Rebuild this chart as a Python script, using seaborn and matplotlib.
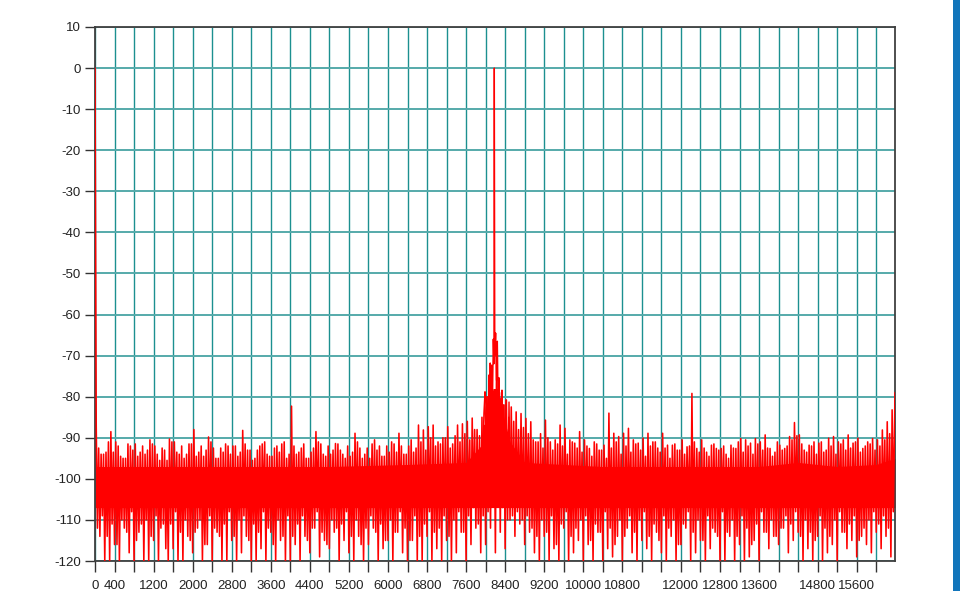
import numpy as np
import matplotlib
matplotlib.use("Agg")
import matplotlib.pyplot as plt
from matplotlib.patches import Rectangle
import seaborn as sns

# ---------------- data ----------------
dc_freq = [0]
dc_db = [0.0]
end_freq = [16384]
end_db = [-79.0]

# tallest maximum of the noise in each 100 Hz bin
peak_db = [
    -87.0, -94.0, -93.5, -88.5, -91.0, -94.5, -95.0, -92.0, -91.5, -93.5,
    -94.0, -90.5, -92.0, -95.5, -93.0, -90.3, -91.0, -94.0, -95.0, -91.5,
    -88.0, -93.5, -94.5, -89.8, -92.5, -95.0, -93.5, -92.0, -92.0, -94.5,
    -88.2, -93.0, -95.5, -93.0, -91.5, -94.0, -94.5, -92.0, -91.5, -95.0,
    -82.3, -94.0, -92.5, -95.0, -93.5, -88.5, -91.5, -94.5, -94.0, -91.4,
    -93.0, -95.0, -94.5, -88.9, -92.5, -94.0, -95.0, -90.5, -92.0, -94.5,
    -93.5, -91.5, -88.9, -94.0, -92.0, -93.5, -86.9, -88.1, -87.3, -86.9,
    -91.0, -90.0, -87.3, -91.5, -86.9, -86.6, -86.0, -85.2, -88.0, -85.0,
    -80.0, -74.0, -70.0, -79.0, -80.8, -82.5, -83.7, -84.1, -85.3, -86.1,
    -91.0, -89.0, -85.7, -91.0, -90.5, -86.9, -87.7, -90.5, -91.3, -88.5,
    -90.5, -92.6, -91.0, -93.0, -91.8, -84.0, -88.9, -89.7, -88.9, -87.7,
    -90.5, -91.3, -90.1, -88.9, -91.0, -92.5, -88.9, -91.8, -91.8, -93.0,
    -90.5, -92.2, -79.2, -92.6, -90.5, -93.5, -91.8, -92.6, -92.6, -94.0,
    -91.8, -92.6, -90.2, -90.5, -91.3, -90.2, -91.0, -89.3, -92.6, -93.5,
    -91.8, -92.6, -89.7, -86.3, -89.3, -93.0, -91.8, -91.0, -91.3, -93.5,
    -90.1, -89.7, -91.0, -90.5, -89.3, -91.3, -90.1, -92.6, -91.0, -90.2,
    -90.5, -88.1, -86.1, -83.2,
]
# shallower minimum in each 100 Hz bin
sec_trough_db = [
    -112, -109, -114, -111, -116, -110, -113, -108, -115, -111,
    -110, -114, -109, -112, -117, -111, -108, -113, -110, -115,
    -113, -110, -116, -109, -112, -114, -111, -108, -114, -110,
    -109, -115, -111, -113, -108, -112, -116, -110, -114, -109,
    -114, -111, -109, -115, -112, -108, -113, -116, -110, -112,
    -111, -108, -114, -110, -116, -112, -109, -113, -111, -115,
    -110, -113, -108, -112, -115, -109, -114, -111, -108, -113,
    -112, -109, -114, -110, -108, -113, -109, -107, -111, -109,
    -108, -106, -105, -107, -110, -109, -108, -110, -109, -112,
    -114, -110, -113, -109, -116, -111, -108, -114, -112, -110,
    -109, -115, -111, -113, -108, -112, -116, -110, -114, -109,
    -113, -110, -108, -114, -111, -115, -109, -112, -110, -116,
    -111, -108, -113, -110, -115, -109, -112, -114, -108, -113,
    -110, -114, -109, -112, -116, -111, -108, -113, -110, -114,
    -112, -109, -111, -108, -114, -110, -113, -115, -109, -112,
    -114, -110, -108, -113, -111, -109, -115, -112, -110, -108,
    -111, -109, -112, -108,
]
# lower maximum in each 100 Hz bin
sec_peak_db = [
    -92.5, -94.0, -91.0, -93.5, -92.0, -95.0, -91.5, -93.0, -94.5, -92.0,
    -93.0, -91.5, -94.0, -92.5, -95.5, -91.0, -93.5, -92.0, -94.0, -91.5,
    -94.5, -92.0, -93.0, -91.0, -95.0, -92.5, -91.5, -94.0, -92.0, -93.5,
    -91.5, -93.0, -95.0, -92.0, -91.0, -94.5, -92.5, -93.5, -91.0, -94.0,
    -92.0, -93.5, -91.5, -95.0, -92.5, -91.0, -94.0, -92.0, -93.0, -91.5,
    -94.0, -92.0, -93.5, -91.0, -95.0, -92.5, -91.5, -93.0, -94.5, -92.0,
    -91.0, -93.5, -92.0, -94.0, -90.5, -92.5, -91.0, -93.0, -90.0, -92.0,
    -91.5, -90.0, -92.5, -89.5, -91.0, -89.0, -90.5, -88.0, -89.5, -87.0,
    -84.0, -80.0, -78.0, -82.0, -85.0, -86.0, -88.0, -87.5, -89.0, -90.5,
    -91.0, -92.5, -90.0, -93.0, -91.5, -92.0, -94.0, -91.0, -92.5, -93.5,
    -92.0, -94.5, -91.5, -93.0, -95.0, -92.5, -91.0, -94.0, -92.0, -93.5,
    -91.5, -93.0, -94.5, -92.0, -91.0, -93.5, -92.5, -95.0, -91.5, -93.0,
    -94.0, -92.0, -91.0, -93.5, -92.5, -94.5, -91.5, -93.0, -92.0, -95.0,
    -92.5, -91.0, -93.5, -92.0, -94.0, -91.5, -93.0, -92.5, -94.5, -91.0,
    -93.0, -92.0, -90.5, -89.5, -91.5, -93.5, -92.0, -94.0, -91.0, -93.0,
    -92.0, -94.0, -91.5, -93.0, -92.5, -91.0, -93.5, -92.0, -91.5, -93.0,
    -92.0, -90.5, -89.0, -87.0,
]
# deepest minimum in each 100 Hz bin
trough_db = [
    -114, -120, -120, -116, -120, -112, -118, -120, -113, -120,
    -120, -115, -120, -111, -120, -117, -120, -120, -114, -118,
    -112, -120, -116, -120, -113, -120, -120, -115, -120, -118,
    -114, -120, -120, -117, -120, -113, -120, -115, -120, -120,
    -116, -120, -114, -118, -112, -119, -115, -117, -113, -120,
    -115, -118, -120, -114, -120, -116, -112, -120, -117, -115,
    -120, -113, -118, -120, -115, -120, -120, -114, -120, -117,
    -120, -115, -120, -118, -113, -120, -116, -112, -118, -116,
    -112, -118, -113, -117, -110, -114, -111, -116, -113, -118,
    -120, -114, -120, -117, -120, -112, -120, -118, -115, -120,
    -116, -120, -113, -120, -117, -119, -114, -120, -112, -118,
    -120, -115, -117, -120, -113, -118, -120, -114, -120, -116,
    -112, -120, -118, -115, -120, -117, -113, -120, -120, -114,
    -120, -116, -120, -119, -115, -120, -113, -117, -114, -116,
    -112, -118, -115, -113, -120, -117, -120, -114, -120, -118,
    -116, -120, -113, -117, -115, -119, -114, -116, -118, -113,
    -117, -114, -119,
]

# carrier at ~8180 Hz and its skirt
skirt_freq = [7940, 7965, 7987, 8005, 8030, 8050, 8070, 8082, 8094, 8108,
              8124, 8140, 8157, 8170, 8178, 8188, 8205, 8222, 8240, 8258,
              8274, 8290, 8310, 8320, 8335, 8350, 8370, 8395, 8417, 8440,
              8462, 8479, 8500]
skirt_db = [-96, -84, -78.8, -94, -80, -92, -74.7, -88, -71.8, -86,
            -72.3, -82, -66.0, -72, 0.0, -70, -64.5, -76, -66.5, -84,
            -75.4, -90, -80.5, -94, -78.4, -96, -82, -98, -80.8, -100,
            -99, -81.3, -100]

# fully solid part of the noise band
core_freq = [0, 1600, 3200, 4800, 6400, 7600, 7900, 8050, 8150, 8250, 8350,
             8500, 8800, 10400, 12000, 13600, 14400, 15200, 16000, 16384]
core_top = [-97, -97, -97, -97, -96.5, -96, -92, -84, -78, -78, -84,
            -91, -96, -97, -97, -97, -96, -97, -96.5, -95]
core_bot = [-107, -107, -107, -107, -107, -107, -107, -107, -107, -107, -107,
            -107, -107, -107, -107, -107, -107, -107, -107, -107]

xtick_vals = list(range(0, 16001, 400))
xlabel_vals = [0, 400, 1200, 2000, 2800, 3600, 4400, 5200, 6000, 6800, 7600,
               8400, 9200, 10000, 10800, 12000, 12800, 13600, 14800, 15600]
ytick_vals = list(range(-120, 11, 10))

# ---------------- assemble the spectrum series ----------------
freq = [dc_freq[0]]
db = [dc_db[0]]
for i in range(len(peak_db)):
    base = 100 * i
    freq += [base + 25, base + 50, base + 75]
    db += [peak_db[i], sec_trough_db[i], sec_peak_db[i]]
    if i < len(trough_db):
        freq.append(base + 100)
        db.append(trough_db[i])
freq += end_freq
db += end_db
freq = np.array(freq, dtype=float)
db = np.array(db, dtype=float)

# ---------------- style ----------------
sns.set_theme(style="white")
plt.rcParams["font.family"] = ["Liberation Sans", "DejaVu Sans"]

fig = plt.figure(figsize=(9.6, 5.91), dpi=100)
ax = fig.add_axes([95 / 960, 1 - 561 / 591, 800 / 960, 534 / 591])
ax.set_facecolor("white")

ax.fill_between(core_freq, core_bot, core_top, color="#ff0000", linewidth=0, zorder=2)
sns.lineplot(x=freq, y=db, ax=ax, color="#ff0000", linewidth=1.15,
             estimator=None, sort=False, legend=False, zorder=3)
sns.lineplot(x=np.array(skirt_freq, float), y=np.array(skirt_db, float), ax=ax,
             color="#ff0000", linewidth=1.0, estimator=None, sort=False,
             legend=False, zorder=3)

ax.set_xlim(0, 16384)
ax.set_ylim(-120, 10)
ax.set_xticks(xtick_vals)
ax.set_xticklabels([str(v) if v in xlabel_vals else "" for v in xtick_vals])
ax.set_yticks(ytick_vals)
ax.set_yticklabels([str(v) for v in ytick_vals])
ax.set_xlabel("")
ax.set_ylabel("")

ax.set_axisbelow(True)
ax.xaxis.grid(True, color="#1c9090", linewidth=1.0)
ax.yaxis.grid(True, color="#55aaaa", linewidth=1.4)

ax.tick_params(axis="x", direction="out", length=8, width=1, color="#333333",
               pad=6, labelsize=9.5, labelcolor="#222222", bottom=True)
ax.tick_params(axis="y", direction="out", length=7, width=1, color="#333333",
               pad=3, labelsize=9.5, labelcolor="#222222", left=True)

for s in ax.spines.values():
    s.set_visible(True)
    s.set_color("#404040")
    s.set_linewidth(1.3)
    s.set_zorder(2.5)

fig.patches.append(Rectangle((953 / 960, 0), 7 / 960, 1, transform=fig.transFigure,
                             facecolor="#1175bb", edgecolor="none"))

fig.savefig("out.png", dpi=100)
